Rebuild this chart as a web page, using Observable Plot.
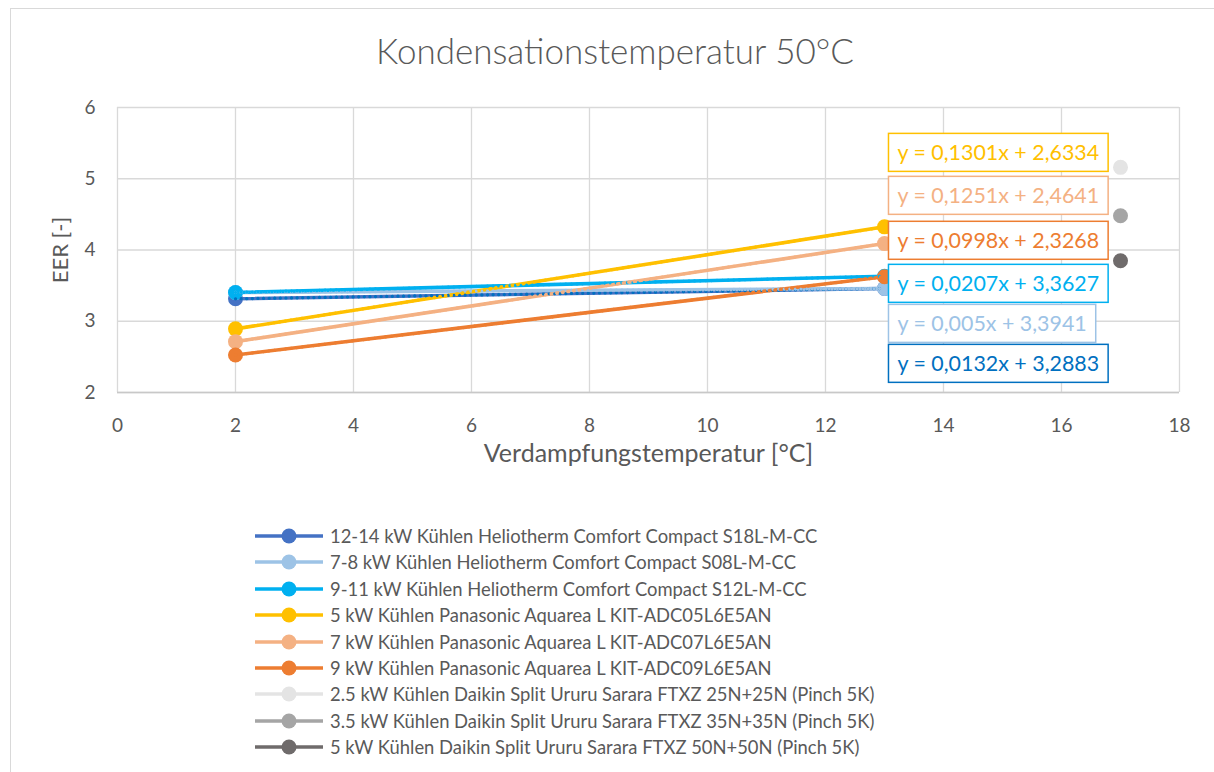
<!DOCTYPE html>
<html>
<head>
<meta charset="utf-8">
<script src="https://cdn.jsdelivr.net/npm/d3@7"></script>
<script src="https://cdn.jsdelivr.net/npm/@observablehq/plot@0.6"></script>
<style>
  html, body { margin: 0; padding: 0; background: #fff; }
  body { width: 1214px; height: 772px; position: relative; overflow: hidden; font-family: Lato, "Open Sans", sans-serif; color: #595959; }
  #frame { position: absolute; left: 10px; top: 8px; width: 1214px; height: 780px; border: 1px solid #D9D9D9; box-sizing: border-box; }
  #title { position: absolute; left: 10px; top: 28px; width: 1210px; height: 44px; line-height: 44px; text-align: center; font-size: 35px; font-weight: 300; color: #595959; }
  #chart { position: absolute; left: 0; top: 85px; }
  #legend { position: absolute; left: 254px; top: 523px; }
  .row { position: absolute; left: 0; height: 26px; white-space: nowrap; display: flex; align-items: center; }
  .row svg { flex: none; }
  .row span { font-size: 18.4px; color: #595959; margin-left: 6px; }
</style>
</head>
<body>
<div id="frame"></div>
<div id="title">Kondensationstemperatur 50°C</div>
<div id="chart"></div>
<div id="legend"></div>
<script>
// ---------- data ----------
const titleText = "Kondensationstemperatur 50°C";
const xLabel = "Verdampfungstemperatur [°C]";
const yLabel = "EER [-]";
const xTicks = [0, 2, 4, 6, 8, 10, 12, 14, 16, 18];
const yTicks = [2, 3, 4, 5, 6];

const seriesNames = [
  "12-14 kW Kühlen Heliotherm Comfort Compact S18L-M-CC",
  "7-8 kW Kühlen Heliotherm Comfort Compact S08L-M-CC",
  "9-11 kW Kühlen Heliotherm Comfort Compact S12L-M-CC",
  "5 kW Kühlen Panasonic Aquarea L KIT-ADC05L6E5AN",
  "7 kW Kühlen Panasonic Aquarea L KIT-ADC07L6E5AN",
  "9 kW Kühlen Panasonic Aquarea L KIT-ADC09L6E5AN",
  "2.5 kW Kühlen Daikin Split Ururu Sarara FTXZ 25N+25N (Pinch 5K)",
  "3.5 kW Kühlen Daikin Split Ururu Sarara FTXZ 35N+35N (Pinch 5K)",
  "5 kW Kühlen Daikin Split Ururu Sarara FTXZ 50N+50N (Pinch 5K)"
];
// evaporation temperatures per series
const seriesX = [
  [2, 13], [2, 13], [2, 13], [2, 13], [2, 13], [2, 13], [17], [17], [17]
];
// EER values per series
const seriesY = [
  [3.315, 3.46],
  [3.404, 3.459],
  [3.404, 3.632],
  [2.893, 4.325],
  [2.714, 4.090],
  [2.526, 3.624],
  [5.16],
  [4.48],
  [3.85]
];
const trendEquations = [
  "y = 0,0132x + 3,2883",
  "y = 0,005x + 3,3941",
  "y = 0,0207x + 3,3627",
  "y = 0,1301x + 2,6334",
  "y = 0,1251x + 2,4641",
  "y = 0,0998x + 2,3268"
];

// ---------- styles / layout ----------
const seriesColors = ["#4472C4", "#9DC3E6", "#00B0F0", "#FFC000", "#F4B183", "#ED7D31", "#E4E4E4", "#A5A5A5", "#6F6B6B"];
const trendColors = ["#0070C0", "#9DC3E6", "#00B0F0", "#FFC000", "#F4B183", "#ED7D31"];
const labelX = 13.22;                                        // data units (left edge of label text)
const labelY = [2.393, 2.954, 3.516, 5.354, 4.751, 4.120];  // data units (label centers)

const rows = [];
seriesNames.forEach((name, i) => {
  seriesX[i].forEach((x, j) => rows.push({series: name, idx: i, x, y: seriesY[i][j]}));
});

const marks = [
  Plot.gridX(xTicks, {stroke: "#D9D9D9", strokeOpacity: 1, strokeWidth: 1.3}),
  Plot.gridY(yTicks, {stroke: "#D9D9D9", strokeOpacity: 1, strokeWidth: 1.3}),
  Plot.ruleY([2], {stroke: "#C8C8C8", strokeWidth: 1.5}),
  Plot.axisX(xTicks, {tickSize: 0, tickPadding: 26, fontSize: 19, fill: "#595959", label: null, tickFormat: d => String(d)}),
  Plot.axisY(yTicks, {tickSize: 0, tickPadding: 22, fontSize: 19, fill: "#595959", label: null, tickFormat: d => String(d)}),
  Plot.text([xLabel], {frameAnchor: "bottom", dy: 69, fontSize: 25, fill: "#595959", textAnchor: "middle"}),
  Plot.text([yLabel], {frameAnchor: "left", dx: -57, rotate: -90, fontSize: 22, fill: "#595959", textAnchor: "middle", lineAnchor: "middle"})
];

seriesNames.forEach((name, i) => {
  const d = rows.filter(r => r.idx === i);
  if (d.length > 1) marks.push(Plot.line(d, {x: "x", y: "y", stroke: seriesColors[i], strokeWidth: 3.6}));
  marks.push(Plot.dot(d, {x: "x", y: "y", r: 7.5, fill: seriesColors[i], stroke: "none"}));
});

trendEquations.forEach((eq, i) => {
  const d = rows.filter(r => r.idx === i);
  marks.push(Plot.linearRegressionY(d, {x: "x", y: "y", ci: 0, stroke: trendColors[i], strokeWidth: 3.2,
    strokeDasharray: "0.1 5.5", strokeLinecap: "round"}));
});

const labelData = trendEquations.map((eq, i) => ({eq, y: labelY[i], color: trendColors[i]}));
marks.push(Plot.text(labelData, {x: () => labelX, y: "y", text: "eq", fill: "color", textAnchor: "start", fontSize: 21.4}));

const plot = Plot.plot({
  width: 1214,
  height: 400,
  marginTop: 22,
  marginBottom: 93,
  marginLeft: 117,
  marginRight: 35,
  x: {domain: [0, 18], label: null},
  y: {domain: [2, 6], label: null},
  style: {fontFamily: "Lato, 'Open Sans', sans-serif", background: "transparent", overflow: "visible"},
  marks
});
document.getElementById("chart").appendChild(plot);

// boxes around equation labels
plot.querySelectorAll("text").forEach(t => {
  if (!t.textContent.startsWith("y = ")) return;
  const b = t.getBBox();
  const rect = document.createElementNS("http://www.w3.org/2000/svg", "rect");
  const padX = 9, padY = 6;
  rect.setAttribute("x", b.x - padX);
  rect.setAttribute("y", b.y - padY);
  rect.setAttribute("width", b.width + 2 * padX);
  rect.setAttribute("height", b.height + 2 * padY);
  rect.setAttribute("fill", "#fff");
  rect.setAttribute("stroke", t.getAttribute("fill") || getComputedStyle(t).fill);
  rect.setAttribute("stroke-width", "1.5");
  if (t.getAttribute("transform")) rect.setAttribute("transform", t.getAttribute("transform"));
  t.parentNode.insertBefore(rect, t);
});

// legend
const legend = document.getElementById("legend");
seriesNames.forEach((name, i) => {
  const row = document.createElement("div");
  row.className = "row";
  row.style.top = (i * 26.4) + "px";
  row.innerHTML = `<svg width="70" height="26"><line x1="1" x2="69" y1="13" y2="13" stroke="${seriesColors[i]}" stroke-width="3.6"/><circle cx="35" cy="13" r="7.5" fill="${seriesColors[i]}"/></svg><span>${name}</span>`;
  legend.appendChild(row);
});
</script>
</body>
</html>
